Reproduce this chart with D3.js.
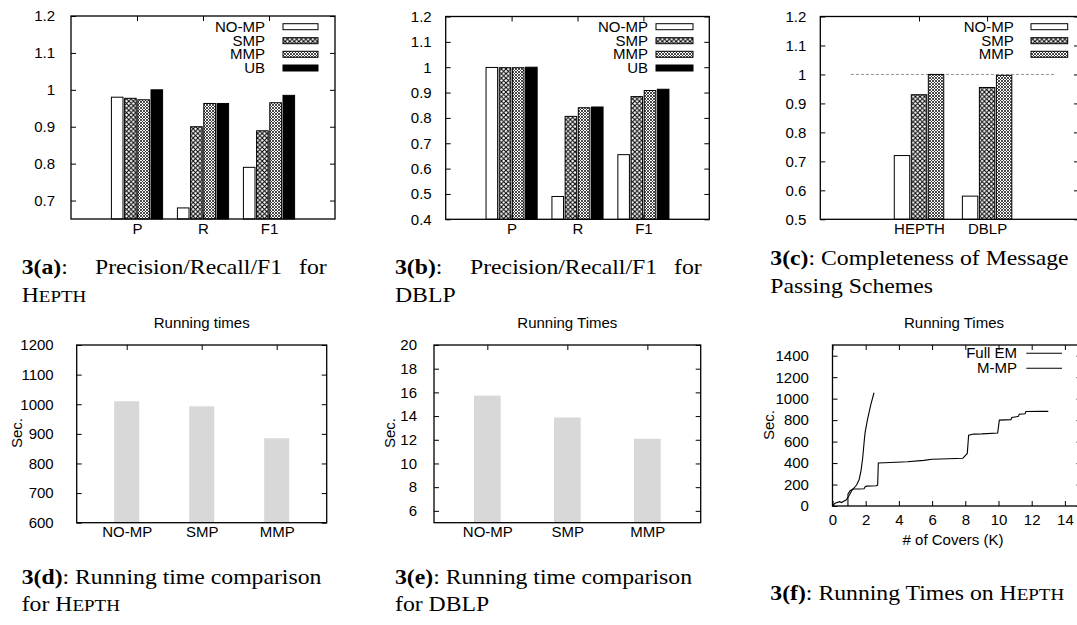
<!DOCTYPE html>
<meta charset="utf-8">
<head>
  <title>Message passing results</title>
</head>

<style>
body { margin: 0; background: #fff; }
svg { display: block; }
</style>

<body>
  <div id="content"></div>

  <script src="https://cdnjs.cloudflare.com/ajax/libs/d3/7.8.5/d3.min.js"></script>

  <script>
// data
var metrics = ['P', 'R', 'F1'];
var schemes = ['NO-MP', 'SMP', 'MMP', 'UB'];
var hepthNoMp = [0.98, 0.68, 0.79];
var hepthSmp = [0.977, 0.90, 0.889];
var hepthMmp = [0.973, 0.963, 0.965];
var hepthUb = [1.0, 0.963, 0.985];

var dblpNoMp = [0.999, 0.49, 0.655];
var dblpSmp = [0.998, 0.806, 0.884];
var dblpMmp = [0.998, 0.84, 0.908];
var dblpUb = [1.0, 0.843, 0.913];

var datasets = ['HEPTH', 'DBLP'];
var completeNoMp = [0.72, 0.58];
var completeSmp = [0.93, 0.955];
var completeMmp = [1.0, 0.997];

var timeSchemes = ['NO-MP', 'SMP', 'MMP'];
var hepthTimes = [1010, 993, 885];
var dblpTimes = [15.73, 13.88, 12.08];

// running time vs # of covers (K, sec.)
var fullEm = [[0.93, 0], [0.93, 110], [1.05, 140], [1.25, 160], [1.45, 195], [1.6, 245],
  [1.72, 330], [1.82, 450], [1.92, 620], [1.97, 690], [2.1, 800], [2.3, 940], [2.5, 1055]];
var mMp = [[0, 0], [0.15, 25], [0.43, 40], [0.55, 32], [0.65, 42], [0.82, 56], [1.02, 103],
  [1.18, 149], [1.25, 158], [1.6, 158], [1.9, 160], [1.97, 180], [2.05, 185], [2.65, 188],
  [2.72, 195], [2.76, 400], [3.5, 405], [4.5, 412], [5.5, 425], [6.0, 435], [7.0, 440],
  [7.85, 445], [8.0, 470], [8.12, 490], [8.2, 660], [8.5, 670], [9.0, 672], [9.95, 680],
  [10.05, 800], [10.75, 805], [10.8, 825], [11.2, 835], [11.25, 855], [11.6, 860],
  [11.65, 880], [12.5, 882], [13.0, 882]];

var sans = "'Liberation Sans', Helvetica, Arial, sans-serif";
var serif = "'Liberation Serif', 'Times New Roman', serif";

var svg = d3.select('#content').append('svg')
  .attr('width', 1077)
  .attr('height', 625);

// fill patterns
var defs = svg.append('defs');
var smp = defs.append('pattern').attr('id', 'smp')
  .attr('patternUnits', 'userSpaceOnUse').attr('width', 4.6).attr('height', 4.6);
smp.append('rect').attr('width', 4.6).attr('height', 4.6).attr('fill', '#fff');
smp.append('path').attr('d', 'M-1,-1L5.6,5.6M5.6,-1L-1,5.6')
  .attr('stroke', '#000').attr('stroke-width', 1);
var mmp = defs.append('pattern').attr('id', 'mmp')
  .attr('patternUnits', 'userSpaceOnUse').attr('width', 3).attr('height', 3);
mmp.append('rect').attr('width', 3).attr('height', 3).attr('fill', '#fff');
mmp.append('path').attr('d', 'M-1,-1L4,4M4,-1L-1,4')
  .attr('stroke', '#2a2a2a').attr('stroke-width', 0.85);

var fills = ['#fff', 'url(#smp)', 'url(#mmp)', '#000'];

function styleAxis(g) {
  g.select('.domain').remove();
  g.selectAll('line').attr('stroke', '#000').attr('stroke-width', 1);
  g.selectAll('text').attr('font-family', sans).attr('font-size', 15).attr('fill', '#000');
}

function axes(x, y, xTicks, xFormat, yTicks, yPad, xPad) {
  var r = x.range(), b = y.range();
  svg.append('g').attr('transform', 'translate(' + r[0] + ',0)')
    .call(d3.axisLeft(y).tickValues(yTicks).tickSize(-5).tickPadding(yPad).tickFormat(d3.format('~g')))
    .call(styleAxis);
  svg.append('g').attr('transform', 'translate(' + r[1] + ',0)')
    .call(d3.axisRight(y).tickValues(yTicks).tickSize(-5).tickFormat(''))
    .call(styleAxis);
  svg.append('g').attr('transform', 'translate(0,' + b[0] + ')')
    .call(d3.axisBottom(x).tickValues(xTicks).tickSize(-5).tickPadding(xPad).tickFormat(xFormat))
    .call(styleAxis);
  svg.append('g').attr('transform', 'translate(0,' + b[1] + ')')
    .call(d3.axisTop(x).tickValues(xTicks).tickSize(-5).tickFormat(''))
    .call(styleAxis);
}

function frame(x, y) {
  var r = x.range(), b = y.range();
  svg.append('rect')
    .attr('x', r[0]).attr('y', b[1])
    .attr('width', r[1] - r[0]).attr('height', b[0] - b[1])
    .attr('fill', 'none').attr('stroke', '#000').attr('stroke-width', 1.3);
}

function label(x, y, s, anchor) {
  return svg.append('text').attr('x', x).attr('y', y)
    .attr('text-anchor', anchor || 'middle')
    .attr('font-family', sans).attr('font-size', 15)
    .text(s);
}

function yLabel(x, y, s) {
  svg.append('text')
    .attr('transform', 'translate(' + x + ',' + y + ') rotate(-90)')
    .attr('text-anchor', 'middle')
    .attr('font-family', sans).attr('font-size', 15)
    .text(s);
}

// grouped histogram with patterned boxes
function grouped(p) {
  var x = d3.scaleLinear().domain(p.xDomain).range([p.left, p.right]);
  var y = d3.scaleLinear().domain(p.yDomain).range([p.bottom, p.top]);
  var n = p.series.length;
  var w = 1 / (n + 1);

  axes(x, y, d3.range(p.cats.length), function(i) { return p.cats[i]; }, p.yTicks, p.yPad, 4);

  if (p.refLine) {
    svg.append('line')
      .attr('x1', x(p.refLine[0])).attr('x2', x(p.refLine[1]))
      .attr('y1', y(1)).attr('y2', y(1))
      .attr('stroke', '#777').attr('stroke-width', 0.8)
      .attr('stroke-dasharray', '3,2');
  }

  p.series.forEach(function(vals, k) {
    svg.append('g').selectAll('rect')
      .data(vals)
      .join('rect')
      .attr('x', function(d, i) { return x(i + (k - (n - 1) / 2) * w - w / 2) + 0.8; })
      .attr('width', x(w) - x(0) - 1.6)
      .attr('y', function(d) { return y(d); })
      .attr('height', function(d) { return y(p.yDomain[0]) - y(d); })
      .attr('fill', fills[k])
      .attr('stroke', '#000')
      .attr('stroke-width', 1);
  });

  // key
  p.series.forEach(function(vals, k) {
    var ry = p.keyRows[k];
    label(p.keyText, ry + 5, schemes[k], 'end');
    svg.append('rect')
      .attr('x', p.keyBox[0]).attr('y', ry - 3)
      .attr('width', p.keyBox[1] - p.keyBox[0]).attr('height', 6)
      .attr('fill', fills[k]).attr('stroke', '#000').attr('stroke-width', 1);
  });

  frame(x, y);
}

grouped({
  left: 71, right: 335, top: 16, bottom: 219,
  xDomain: [-1, 3], yDomain: [0.65, 1.2],
  yTicks: [0.7, 0.8, 0.9, 1, 1.1, 1.2], yPad: 16,
  cats: metrics, series: [hepthNoMp, hepthSmp, hepthMmp, hepthUb],
  keyText: 265, keyBox: [283, 318], keyRows: [26.7, 40.7, 54.3, 68]
});

grouped({
  left: 445.7, right: 709.3, top: 16.5, bottom: 219.3,
  xDomain: [-1, 3], yDomain: [0.4, 1.2],
  yTicks: [0.4, 0.5, 0.6, 0.7, 0.8, 0.9, 1, 1.1, 1.2], yPad: 14,
  cats: metrics, series: [dblpNoMp, dblpSmp, dblpMmp, dblpUb],
  keyText: 648, keyBox: [656, 693], keyRows: [26.7, 40.7, 54.3, 68]
});

grouped({
  left: 820.3, right: 1079, top: 16.5, bottom: 219.3,
  xDomain: [-1.45, 2.35], yDomain: [0.5, 1.2],
  yTicks: [0.5, 0.6, 0.7, 0.8, 0.9, 1, 1.1, 1.2], yPad: 14,
  cats: datasets, series: [completeNoMp, completeSmp, completeMmp],
  keyText: 1013.7, keyBox: [1031, 1067.7], keyRows: [26.7, 40.7, 54.3],
  refLine: [-1, 2]
});

// running time bars
function timeBars(p) {
  var x = d3.scaleLinear().domain([-2 / 3, 8 / 3]).range([p.left, p.right]);
  var y = d3.scaleLinear().domain(p.yDomain).range([p.bottom, p.top]);

  axes(x, y, d3.range(timeSchemes.length), function(i) { return timeSchemes[i]; }, p.yTicks, p.yPad, 4);

  svg.append('g').selectAll('rect')
    .data(p.values)
    .join('rect')
    .attr('x', function(d, i) { return x(i - 1 / 6); })
    .attr('width', x(1 / 3) - x(0))
    .attr('y', function(d) { return y(d); })
    .attr('height', function(d) { return y(p.yDomain[0]) - y(d); })
    .attr('fill', '#d8d8d8');

  frame(x, y);
  label((p.left + p.right) / 2, 328, p.title);
  yLabel(p.secX, 433, 'Sec.');
}

timeBars({
  left: 76.7, right: 326.7, top: 345, bottom: 522.7,
  yDomain: [600, 1200], yTicks: [600, 700, 800, 900, 1000, 1100, 1200], yPad: 23,
  values: hepthTimes, title: 'Running times', secX: 21.5
});

timeBars({
  left: 434, right: 700.7, top: 345, bottom: 522.7,
  yDomain: [5, 20], yTicks: [6, 8, 10, 12, 14, 16, 18, 20], yPad: 17,
  values: dblpTimes, title: 'Running Times', secX: 395
});

// running time vs covers
var xf = d3.scaleLinear().domain([0, 15]).range([832.5, 1081.5]);
var yf = d3.scaleLinear().domain([0, 1500]).range([506, 345]);
axes(xf, yf, d3.range(0, 15, 2), d3.format('d'), d3.range(0, 1401, 200), 23.6, 8.5);

var line = d3.line()
  .x(function(d) { return xf(d[0]); })
  .y(function(d) { return yf(d[1]); });

[fullEm, mMp].forEach(function(c) {
  svg.append('path').datum(c)
    .attr('d', line)
    .attr('fill', 'none').attr('stroke', '#000').attr('stroke-width', 1.1);
});

[['Full EM', 353.3], ['M-MP', 368.3]].forEach(function(k) {
  label(1017, k[1] + 5, k[0], 'end');
  svg.append('line')
    .attr('x1', 1026.3).attr('x2', 1062)
    .attr('y1', k[1]).attr('y2', k[1])
    .attr('stroke', '#000').attr('stroke-width', 1.1);
});

frame(xf, yf);
label(954, 328, 'Running Times');
label(953, 545, '# of Covers (K)');
yLabel(773.7, 425, 'Sec.');

// captions
function caption(x, y, parts, anchor) {
  var t = svg.append('text')
    .attr('transform', 'translate(' + x + ',' + y + ') scale(1.13,1)')
    .attr('text-anchor', anchor || 'start')
    .attr('font-family', serif)
    .attr('font-size', 21)
    .attr('fill', '#000');
  parts.forEach(function(q) {
    t.append('tspan').text(q[0])
      .attr('font-weight', q[1] === 'b' ? 'bold' : null)
      .attr('font-size', q[1] === 'sc' ? 16.8 : null);
  });
}

caption(21.7, 274, [['3(a)', 'b'], [':']]);
caption(95, 274, [['Precision/Recall/F1']]);
caption(326.7, 274, [['for']], 'end');
caption(21.7, 302, [['H'], ['EPTH', 'sc']]);

caption(395, 274, [['3(b)', 'b'], [':']]);
caption(470, 274, [['Precision/Recall/F1']]);
caption(701.7, 274, [['for']], 'end');
caption(395, 302, [['DBLP']]);

caption(770.3, 265, [['3(c)', 'b'], [': Completeness of Message']]);
caption(770.3, 293, [['Passing Schemes']]);

caption(21.7, 584, [['3(d)', 'b'], [': Running time comparison']]);
caption(21.7, 611, [['for H'], ['EPTH', 'sc']]);

caption(395, 584, [['3(e)', 'b'], [': Running time comparison']]);
caption(395, 611, [['for DBLP']]);

caption(770.3, 600, [['3(f)', 'b'], [': Running Times on H'], ['EPTH', 'sc']]);
  </script>
</body>
</html>
